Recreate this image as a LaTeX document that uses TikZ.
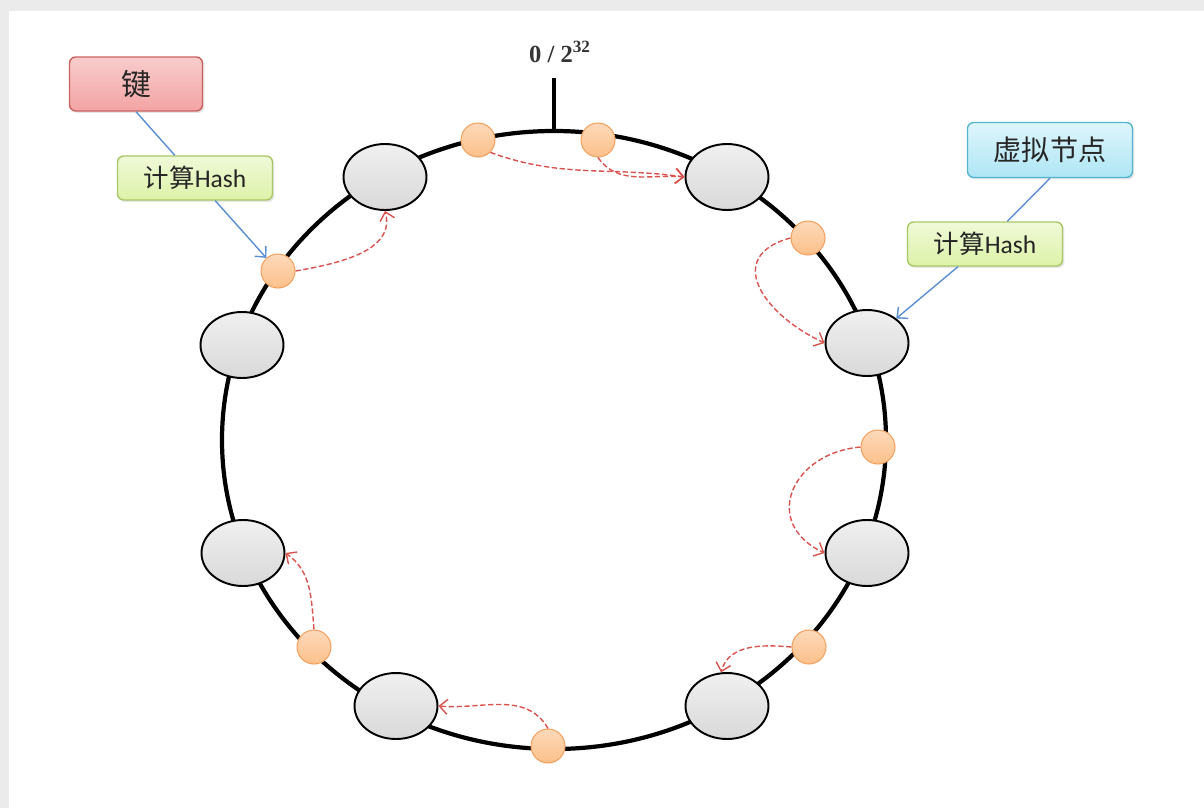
\documentclass[tikz,border=0pt]{standalone}
\usepackage{fontspec}
\setmainfont{Carlito}
\newfontfamily\cjk{Noto Sans CJK SC}
\newfontfamily\zerofont{Liberation Serif}
\usepackage{tikz}
\usetikzlibrary{arrows.meta,shapes.geometric,shadows}
\usepackage{xcolor}
\definecolor{fframe}{HTML}{EBEBEB}
\definecolor{fhop}{HTML}{D9534F}
\definecolor{flink}{HTML}{5B8FD0}
\definecolor{fdot}{HTML}{FBC08A}
\definecolor{fdotline}{HTML}{F2A262}
\definecolor{fkey}{HTML}{F3A3A3}
\definecolor{fkeyline}{HTML}{C9625F}
\definecolor{fhash}{HTML}{DDF2A8}
\definecolor{fhashline}{HTML}{A9C766}
\definecolor{fvirt}{HTML}{AEE6F5}
\definecolor{fvirtline}{HTML}{55B5D0}
\tikzset{
  ring/.style    = {line width=2.4pt, black},
  vnode/.style   = {draw=black, line width=1.1pt, ellipse, minimum width=1.66cm,
                    minimum height=1.32cm, top color=gray!12, bottom color=gray!30},
  kpoint/.style  = {draw=fdotline, line width=0.6pt, circle, inner sep=0pt,
                    minimum size=0.68cm, top color=fdot!60, bottom color=fdot},
  tagbox/.style  = {draw, line width=0.8pt, rounded corners=3.5pt, align=center,
                    inner sep=0pt, text=black!85,
                    drop shadow={shadow xshift=0.04cm, shadow yshift=-0.04cm, opacity=0.2}},
  keybox/.style  = {tagbox, draw=fkeyline, top color=fkey!55, bottom color=fkey,
                    minimum width=2.66cm, minimum height=1.08cm,
                    font=\fontsize{17pt}{19pt}\selectfont\cjk},
  hashbox/.style = {tagbox, draw=fhashline, top color=fhash!45, bottom color=fhash,
                    minimum width=3.1cm, minimum height=0.88cm,
                    font=\fontsize{14.5pt}{16pt}\selectfont},
  virtbox/.style = {tagbox, draw=fvirtline, top color=fvirt!40, bottom color=fvirt,
                    minimum width=3.3cm, minimum height=1.1cm,
                    font=\fontsize{16pt}{18pt}\selectfont\cjk},
  hop/.style     = {fhop, line width=0.8pt, dash pattern=on 3pt off 1.5pt,
                    -{Straight Barb[length=1.6mm,width=3mm]}},
  link/.style    = {flink, line width=0.8pt},
}

\begin{document}
\begin{tikzpicture}[x=0.02cm,y=-0.02cm]
\useasboundingbox (0,0) rectangle (1204,808);
\fill[fframe] (0,0) rectangle (1204,11);
\fill[fframe] (0,0) rectangle (9,808);
% the hash ring
\draw[ring] (554,440) ellipse [x radius=332, y radius=309];
\coordinate (origin) at (554,131);
\coordinate (tick) at (554,78);
\draw[ring] (origin) -- (tick);
\node[font=\fontsize{14pt}{16pt}\selectfont\zerofont\bfseries, text=black!80]
  (zero) at (560,52) {0 / 2\textsuperscript{32}};
% real nodes on the ring
\node[vnode] (n1) at (385,177) {};
\node[vnode] (n2) at (727,177) {};
\node[vnode] (n3) at (867,343) {};
\node[vnode] (n4) at (867,553) {};
\node[vnode] (n5) at (727,706) {};
\node[vnode] (n6) at (396,706) {};
\node[vnode] (n7) at (243,553) {};
\node[vnode] (n8) at (242,345) {};
% hashed keys
\node[kpoint] (k1) at (478,140) {};
\node[kpoint] (k2) at (598,140) {};
\node[kpoint] (k3) at (808,238) {};
\node[kpoint] (k4) at (878,447) {};
\node[kpoint] (k5) at (809,647) {};
\node[kpoint] (k6) at (548,746) {};
\node[kpoint] (k7) at (314,647) {};
\node[kpoint] (k8) at (278,271) {};
% each key goes to the next node clockwise
\draw[hop] (k1.south east) to[out=-20,in=172] (n2.west);
\draw[hop] (k2.south) to[out=-55,in=175] (n2.west);
\draw[hop] (k3.west) to[out=195,in=155,looseness=1.6] (n3.west);
\draw[hop] (k4.west) to[out=185,in=155,looseness=1.6] (n4.west);
\draw[hop] (k5.west) to[out=175,in=75] (n5.100);
\draw[hop] (k6.north) to[out=120,in=-5] (n6.east);
\draw[hop] (k7.north) to[out=95,in=-35] (n7.east);
\draw[hop] (k8.east) to[out=10,in=-75] (n1.south);
% labels
\node[keybox] (key) at (136,84) {键};
\node[hashbox] (hash1) at (195,178) {{\cjk 计算}Hash};
\node[virtbox] (virt) at (1050,150) {虚拟节点};
\node[hashbox] (hash2) at (985,244) {{\cjk 计算}Hash};
\draw[link] (key.south) -- (hash1);
\draw[link,-{Straight Barb[length=1.6mm,width=3mm]}] (hash1) -- (k8);
\draw[link] (virt.south) -- (hash2);
\draw[link,-{Straight Barb[length=1.6mm,width=3mm]}] (hash2) -- (n3);
\end{tikzpicture}
\end{document}
